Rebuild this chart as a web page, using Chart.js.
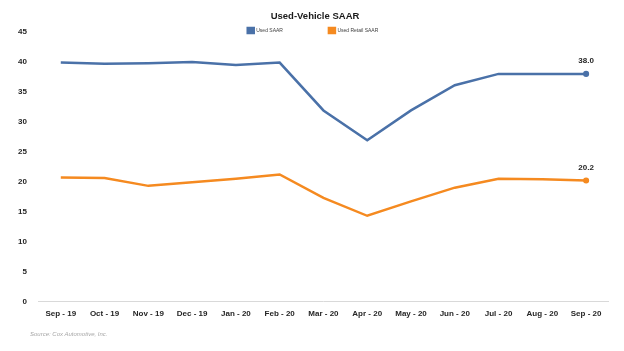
<!DOCTYPE html>
<html>
<head>
<meta charset="utf-8">
<script src="https://cdn.jsdelivr.net/npm/chart.js@4/dist/chart.umd.min.js"></script>
<style>
  html, body { margin: 0; padding: 0; background: #fff; }
  #wrap { position: relative; width: 624px; height: 351px; }
  #source { position: absolute; left: 30px; top: 331px; font: italic 6px "Liberation Sans", Arial, sans-serif; color: #a6a6a6; white-space: nowrap; }
</style>
</head>
<body>
<div id="wrap">
  <canvas id="c" width="624" height="351"></canvas>
  <div id="source">Source: Cox Automotive, Inc.</div>
</div>
<script>
const categories = ["Sep - 19", "Oct - 19", "Nov - 19", "Dec - 19", "Jan - 20", "Feb - 20", "Mar - 20", "Apr - 20", "May - 20", "Jun - 20", "Jul - 20", "Aug - 20", "Sep - 20"];
const usedSAAR = [39.9, 39.7, 39.8, 40.0, 39.5, 39.9, 31.9, 26.9, 31.9, 36.1, 38.0, 38.0, 38.0];
const usedRetailSAAR = [20.7, 20.6, 19.3, 19.9, 20.5, 21.2, 17.3, 14.3, 16.7, 19.0, 20.5, 20.4, 20.2];
const yTicks = [0, 5, 10, 15, 20, 25, 30, 35, 40, 45];

const FONT = '"Liberation Sans", Arial, sans-serif';
const LEGEND_PAD = 46;

const lastOnly = (arr, r) => arr.map((v, i) => (i === arr.length - 1 ? r : 0));

const legendTweak = {
  id: 'legendTweak',
  beforeInit(chart) {
    const fit = chart.legend.fit;
    chart.legend.fit = function () {
      fit.bind(chart.legend)();
      this.height = 32 - 22.5;
    };
  },
  afterLayout(chart) {
    const lg = chart.legend;
    lg.top = 28 - LEGEND_PAD;
    lg.bottom = 40;
    lg.height = lg.bottom - lg.top;
    lg.left += 6;
    lg.right += 6;
    const tb = chart.titleBlock;
    if (tb) { tb.left += 8; tb.right += 8; }
  }
};

const lastLabel = {
  id: 'lastLabel',
  afterDatasetsDraw(chart) {
    const ctx = chart.ctx;
    ctx.save();
    ctx.font = 'bold 8px ' + FONT;
    ctx.fillStyle = '#262626';
    ctx.textAlign = 'center';
    ctx.textBaseline = 'middle';
    chart.data.datasets.forEach((ds, di) => {
      const meta = chart.getDatasetMeta(di);
      const idx = ds.data.length - 1;
      const pt = meta.data[idx];
      ctx.fillText(ds.data[idx].toFixed(1), pt.x, pt.y - 13);
    });
    ctx.restore();
  }
};

new Chart(document.getElementById('c'), {
  type: 'line',
  data: {
    labels: categories,
    datasets: [
      {
        label: 'Used SAAR',
        data: usedSAAR,
        borderColor: '#4A71A8',
        backgroundColor: '#4A71A8',
        borderWidth: 2.5,
        pointRadius: lastOnly(usedSAAR, 1.8),
        pointHoverRadius: 0,
        tension: 0
      },
      {
        label: 'Used Retail SAAR',
        data: usedRetailSAAR,
        borderColor: '#F58A20',
        backgroundColor: '#F58A20',
        borderWidth: 2.5,
        pointRadius: lastOnly(usedRetailSAAR, 1.8),
        pointHoverRadius: 0,
        tension: 0
      }
    ]
  },
  options: {
    responsive: false,
    animation: false,
    events: [],
    layout: { padding: { left: 6, right: 16, top: 0, bottom: 24 } },
    plugins: {
      title: {
        display: true,
        text: 'Used-Vehicle SAAR',
        color: '#1a1a1a',
        font: { family: FONT, size: 9.5, weight: 'bold' },
        padding: { top: 10.5, bottom: 0.6 }
      },
      legend: {
        display: true,
        position: 'top',
        align: 'center',
        labels: {
          boxWidth: 6,
          boxHeight: 5,
          padding: LEGEND_PAD,
          color: '#404040',
          font: { family: FONT, size: 5 }
        }
      },
      tooltip: { enabled: false }
    },
    scales: {
      x: {
        offset: true,
        grid: { display: false, drawTicks: false },
        border: { display: true, color: '#d9d9d9', width: 1 },
        ticks: {
          color: '#262626',
          font: { family: FONT, size: 8, weight: 'bold' },
          padding: 8,
          maxRotation: 0,
          autoSkip: false
        }
      },
      y: {
        min: 0,
        max: 45,
        afterBuildTicks(scale) { scale.ticks = yTicks.map(v => ({ value: v })); },
        grid: { display: false, drawTicks: false },
        border: { display: false },
        ticks: {
          color: '#262626',
          font: { family: FONT, size: 8, weight: 'bold' },
          padding: 12
        }
      }
    }
  },
  plugins: [legendTweak, lastLabel]
});
</script>
</body>
</html>
